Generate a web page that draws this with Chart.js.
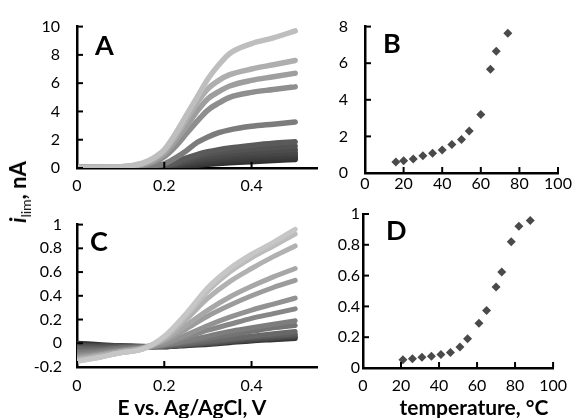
<!DOCTYPE html>
<html>
<head>
<meta charset="utf-8">
<script src="https://cdn.jsdelivr.net/npm/chart.js@4.4.1/dist/chart.umd.min.js"></script>
<style>
  body { margin: 0; background: #fff; }
  #wrap { position: relative; width: 575px; height: 418px; overflow: hidden; font-family: Lato, sans-serif; }
  canvas { position: absolute; }
  .lbl { position: absolute; font-weight: bold; color: #000; white-space: nowrap; transform: translate(-50%, -50%); line-height: 1; }
</style>
</head>
<body>
<div id="wrap">
  <canvas id="chartA" width="330" height="200" style="left:0;top:0"></canvas>
  <canvas id="chartB" width="245" height="200" style="left:330px;top:0"></canvas>
  <canvas id="chartC" width="330" height="218" style="left:0;top:200px"></canvas>
  <canvas id="chartD" width="245" height="218" style="left:330px;top:200px"></canvas>
  <div class="lbl" style="left:192px;top:406px;font-size:21px">E vs. Ag/AgCl, V</div>
  <div class="lbl" style="left:474px;top:406px;font-size:21px">temperature, °C</div>
  <div class="lbl" style="left:18px;top:192px;font-size:22px;transform:translate(-50%,-50%) rotate(-90deg)"><i>i</i><span style="font-size:14px;font-weight:normal;position:relative;top:5px">lim</span>, nA</div>
</div>
<script>
// panel A: voltammograms, potential (V) vs current (nA), lightest curve first
const potA = [0, 0.1, 0.15, 0.175, 0.2, 0.225, 0.25, 0.275, 0.3, 0.325, 0.35, 0.4, 0.45, 0.5];
const currA = [
  [0.06, 0.09, 0.35, 0.7, 1.3, 2.4, 3.7, 5.0, 6.3, 7.3, 8.1, 8.8, 9.2, 9.7],
  [0.06, 0.08, 0.3, 0.62, 1.2, 2.2, 3.4, 4.6, 5.6, 6.2, 6.6, 7.0, 7.3, 7.6],
  [0.05, 0.07, 0.26, 0.52, 1.0, 1.9, 2.9, 4.0, 4.9, 5.4, 5.8, 6.2, 6.45, 6.7],
  [0.05, 0.06, 0.2, 0.4, 0.8, 1.5, 2.4, 3.3, 4.1, 4.6, 5.0, 5.35, 5.55, 5.75],
  [0.04, 0.05, 0.1, 0.16, 0.3, 0.7, 1.2, 1.8, 2.2, 2.5, 2.7, 2.95, 3.1, 3.25],
  [0.03, 0.04, 0.06, 0.1, 0.18, 0.4, 0.7, 0.95, 1.15, 1.3, 1.42, 1.6, 1.75, 1.85],
  [0.03, 0.04, 0.05, 0.08, 0.15, 0.32, 0.55, 0.8, 0.98, 1.1, 1.2, 1.35, 1.45, 1.55],
  [0.03, 0.03, 0.05, 0.07, 0.12, 0.26, 0.45, 0.65, 0.8, 0.9, 1.0, 1.12, 1.22, 1.3],
  [0.03, 0.03, 0.04, 0.06, 0.1, 0.2, 0.36, 0.52, 0.65, 0.75, 0.83, 0.94, 1.03, 1.1],
  [0.03, 0.03, 0.04, 0.05, 0.08, 0.16, 0.28, 0.42, 0.53, 0.62, 0.7, 0.8, 0.88, 0.95],
  [0.02, 0.03, 0.03, 0.04, 0.06, 0.12, 0.22, 0.33, 0.43, 0.5, 0.57, 0.66, 0.74, 0.8],
  [0.02, 0.02, 0.03, 0.03, 0.05, 0.09, 0.16, 0.25, 0.33, 0.4, 0.46, 0.55, 0.63, 0.7],
  [0.02, 0.02, 0.02, 0.03, 0.04, 0.07, 0.12, 0.19, 0.26, 0.32, 0.37, 0.45, 0.53, 0.6]
];

// panel C: voltammograms, lightest curve first
const potC = [0, 0.05, 0.1, 0.15, 0.2, 0.25, 0.3, 0.35, 0.4, 0.45, 0.5];
const currC = [
  [-0.15, -0.12, -0.08, -0.05, 0.06, 0.25, 0.47, 0.63, 0.75, 0.85, 0.96],
  [-0.15, -0.12, -0.08, -0.05, 0.05, 0.23, 0.44, 0.6, 0.72, 0.82, 0.92],
  [-0.14, -0.11, -0.08, -0.05, 0.04, 0.2, 0.38, 0.52, 0.63, 0.73, 0.82],
  [-0.13, -0.1, -0.07, -0.04, 0.03, 0.15, 0.28, 0.39, 0.48, 0.56, 0.63],
  [-0.12, -0.1, -0.07, -0.04, 0.02, 0.12, 0.23, 0.32, 0.4, 0.47, 0.53],
  [-0.11, -0.09, -0.06, -0.04, 0.0, 0.07, 0.15, 0.22, 0.28, 0.33, 0.38],
  [-0.1, -0.08, -0.06, -0.04, -0.01, 0.05, 0.11, 0.16, 0.21, 0.25, 0.29],
  [-0.08, -0.07, -0.05, -0.035, -0.015, 0.02, 0.06, 0.1, 0.13, 0.16, 0.19],
  [-0.07, -0.06, -0.04, -0.03, -0.02, 0.01, 0.04, 0.07, 0.1, 0.13, 0.15],
  [-0.05, -0.05, -0.04, -0.03, -0.02, 0.0, 0.02, 0.04, 0.06, 0.08, 0.1],
  [-0.04, -0.04, -0.03, -0.03, -0.025, -0.01, 0.01, 0.03, 0.05, 0.065, 0.08],
  [-0.03, -0.03, -0.03, -0.03, -0.025, -0.01, 0.0, 0.02, 0.04, 0.055, 0.07],
  [-0.02, -0.02, -0.02, -0.03, -0.03, -0.015, 0.0, 0.015, 0.03, 0.045, 0.06],
  [-0.01, -0.02, -0.02, -0.03, -0.03, -0.015, -0.005, 0.01, 0.025, 0.04, 0.05],
  [0.0, -0.01, -0.02, -0.025, -0.03, -0.02, -0.01, 0.005, 0.02, 0.03, 0.04]
];

// panels B and D: limiting current vs temperature
const tempB = [16, 20, 25, 30, 35, 40, 45, 50, 54, 60, 65, 68, 74];
const limB = [0.6, 0.67, 0.76, 0.94, 1.08, 1.26, 1.56, 1.83, 2.3, 3.2, 5.67, 6.65, 7.64];
const tempD = [21, 26, 31, 36, 41, 46, 51, 55, 61, 65, 70, 73, 78, 82, 88];
const limD = [0.054, 0.06, 0.07, 0.076, 0.087, 0.1, 0.137, 0.19, 0.29, 0.374, 0.526, 0.624, 0.82, 0.92, 0.957];

const ticksPot = [0, 0.2, 0.4];
const ticksTemp = [0, 20, 40, 60, 80, 100];
const ticksYA = [0, 2, 4, 6, 8, 10];
const ticksYB = [0, 2, 4, 6, 8];
const ticksYC = [-0.2, 0, 0.2, 0.4, 0.6, 0.8, 1];
const ticksYD = [0, 0.2, 0.4, 0.6, 0.8, 1];

const shadesA = ['#bebebe', '#aeaeae', '#9e9e9e', '#8e8e8e', '#7c7c7c', '#5a5a5a', '#535353', '#4c4c4c', '#464646', '#404040', '#3b3b3b', '#363636', '#313131'];
const gray = (i, n, hi, lo) => { const v = Math.round(hi - (hi - lo) * i / (n - 1)); return `rgb(${v},${v},${v})`; };

// inward tick marks + panel letter
const panelPlugin = {
  id: 'panel',
  afterDraw(chart, args, opts) {
    const ctx = chart.ctx;
    const a = chart.chartArea;
    const sx = chart.scales.x, sy = chart.scales.y;
    ctx.save();
    ctx.strokeStyle = '#000';
    ctx.lineWidth = 2;
    sx.ticks.forEach(t => {
      const px = sx.getPixelForValue(t.value);
      ctx.beginPath(); ctx.moveTo(px, a.bottom); ctx.lineTo(px, a.bottom - 6); ctx.stroke();
    });
    sy.ticks.forEach(t => {
      const py = sy.getPixelForValue(t.value);
      ctx.beginPath(); ctx.moveTo(a.left, py); ctx.lineTo(a.left + 6, py); ctx.stroke();
    });
    ctx.fillStyle = '#000';
    ctx.font = 'bold 27px Lato';
    ctx.textBaseline = 'alphabetic';
    ctx.fillText(opts.letter, a.left + opts.dx, a.top + opts.dy);
    ctx.restore();
  }
};

function axis(min, max, ticks, size, pad, isX) {
  return {
    type: 'linear', min: min, max: max,
    afterBuildTicks: s => { s.ticks = ticks.map(v => ({ value: v })); },
    afterFit: s => { if (isX) s.height = size; else s.width = size; },
    grid: { display: false, drawTicks: false },
    border: { display: true, color: '#000', width: 2.5 },
    ticks: { padding: pad, color: '#000', font: { family: 'Lato', size: 16 }, callback: v => String(v) }
  };
}

function baseOpts(pad, letter, dx, dy, xs, ys) {
  return {
    responsive: false, animation: false,
    layout: { padding: pad, autoPadding: false },
    plugins: { legend: { display: false }, tooltip: { enabled: false }, panel: { letter: letter, dx: dx, dy: dy } },
    scales: { x: xs, y: ys }
  };
}

function curves(xs, sets, colors, width) {
  return sets.map((ys, i) => ({
    data: xs.map((x, k) => ({ x: x, y: ys[k] })),
    borderColor: colors[i], borderWidth: width, pointRadius: 0,
    cubicInterpolationMode: 'monotone', borderCapStyle: 'round', borderJoinStyle: 'round'
  }));
}

function scatter(xs, ys) {
  return [{
    data: xs.map((x, k) => ({ x: x, y: ys[k] })),
    pointStyle: 'rectRot', pointRadius: 4.5, backgroundColor: '#4a4a4a', borderColor: '#4a4a4a', borderWidth: 0,
    showLine: false
  }];
}

new Chart('chartA', {
  type: 'line',
  data: { datasets: curves(potA, currA, shadesA, 5.5) },
  options: baseOpts({ left: 0, top: 24, right: 13, bottom: 0 }, 'A', 18, 28,
    axis(0, 0.55, ticksPot, 32, 8, true), axis(0, 10, ticksYA, 77, 17, false)),
  plugins: [panelPlugin]
});

new Chart('chartB', {
  type: 'scatter',
  data: { datasets: scatter(tempB, limB) },
  options: baseOpts({ left: 0, top: 24, right: 17, bottom: 0 }, 'B', 18, 26,
    axis(0, 100, ticksTemp, 27, 1, true), axis(0, 8, ticksYB, 35, 17, false)),
  plugins: [panelPlugin]
});

new Chart('chartC', {
  type: 'line',
  data: { datasets: curves(potC, currC, currC.map((c, i) => gray(i, currC.length, 198, 52)), 5) },
  options: baseOpts({ left: 0, top: 14, right: 13, bottom: 0 }, 'C', 13, 26,
    axis(0, 0.55, ticksPot, 51, 9, true), axis(-0.2, 1, ticksYC, 77, 15, false)),
  plugins: [panelPlugin]
});

new Chart('chartD', {
  type: 'scatter',
  data: { datasets: scatter(tempD, limD) },
  options: baseOpts({ left: 0, top: 14, right: 17, bottom: 0 }, 'D', 23, 26,
    axis(0, 100, ticksTemp, 50, 8, true), axis(0, 1, ticksYD, 33, 3, false)),
  plugins: [panelPlugin]
});
</script>
</body>
</html>
